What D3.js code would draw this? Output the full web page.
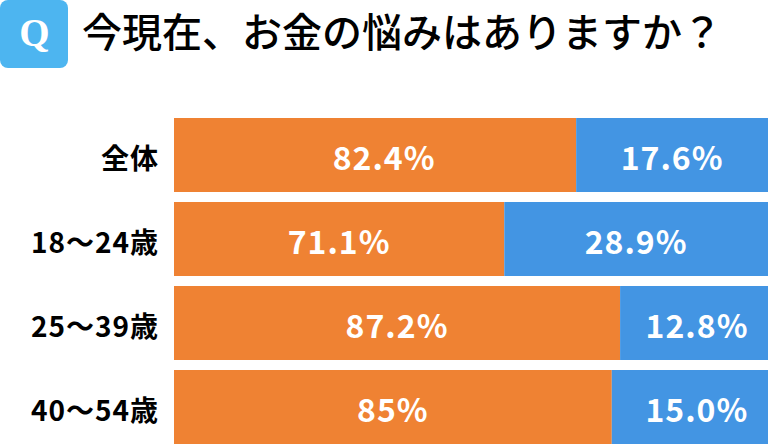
<!DOCTYPE html>
<html>
<head>
<meta charset="utf-8">
<script src="https://cdn.jsdelivr.net/npm/d3@7"></script>
<style>
  html, body { margin: 0; padding: 0; background: #fff; }
  text { font-family: "Noto Sans CJK JP", "Noto Sans", sans-serif; }
</style>
</head>
<body>
<div id="chart"></div>
<script>
var titleText = "今現在、お金の悩みはありますか？";
var categories = ["全体", "18～24歳", "25～39歳", "40～54歳"];
// the printed percentages
var yesLabels = ["82.4%", "71.1%", "87.2%", "85%"];
var noLabels = ["17.6%", "28.9%", "12.8%", "15.0%"];
// the orange part as drawn in the picture, in % of the bar. The reference
// bars are not in proportion to the printed numbers, so these are read off the bars
var yesDrawn = [67.7, 55.6, 75.1, 73.7];
var noDrawn = [32.3, 44.4, 24.9, 26.3];

var width = 768, height = 444;
var svg = d3.select("#chart").append("svg")
    .attr("width", width)
    .attr("height", height)
    .style("display", "block");

// Q badge
svg.append("rect")
    .attr("x", 0).attr("y", 0)
    .attr("width", 68).attr("height", 68)
    .attr("rx", 8)
    .style("fill", "#4db5f0");
svg.append("text")
    .text("Q")
    .attr("x", 34.5).attr("y", 46)
    .attr("text-anchor", "middle")
    .style("font-family", "'Liberation Serif', serif")
    .style("fill", "#fff")
    .style("font-size", "39px")
    .style("font-weight", 700);

svg.append("text")
    .text(titleText)
    .attr("x", 82).attr("y", 47)
    .style("fill", "#000")
    .style("font-size", "40px")
    .style("font-weight", 500);

var x = d3.scaleLinear().domain([0, 100]).range([174, 768]);
var y = d3.scaleBand().domain(categories).range([118, 444]).paddingInner(10/84).paddingOuter(0);

// the labels do not always sit in the middle of their part
var yesNudge = [9, 0, 0, 0];
var noNudge = [0, 0, 3, 7];

function valueLabel(txt, cx, c){
  svg.append("text")
      .text(txt)
      .attr("x", cx).attr("y", y(c) + 52)
      .attr("text-anchor", "middle")
      .style("fill", "#fff")
      .style("font-size", "32px")
      .style("font-weight", 700)
      .style("letter-spacing", "1px");
}

categories.forEach(function(c, i){
  var split = yesDrawn[i];
  svg.append("rect")
      .attr("x", x(0)).attr("y", y(c))
      .attr("width", x(split) - x(0))
      .attr("height", y.bandwidth())
      .style("fill", "#ef8233");
  svg.append("rect")
      .attr("x", x(split)).attr("y", y(c))
      .attr("width", x(split + noDrawn[i]) - x(split))
      .attr("height", y.bandwidth())
      .style("fill", "#4395e3");

  svg.append("text")
      .text(c)
      .attr("x", 159).attr("y", y(c) + 51)
      .attr("text-anchor", "end")
      .style("fill", "#000")
      .style("font-size", "28px")
      .style("font-weight", 700)
      .style("letter-spacing", "1px");

  valueLabel(yesLabels[i], (x(0) + x(split))/2 + yesNudge[i], c);
  valueLabel(noLabels[i], (x(split) + x(100))/2 + noNudge[i], c);
});
</script>
</body>
</html>
